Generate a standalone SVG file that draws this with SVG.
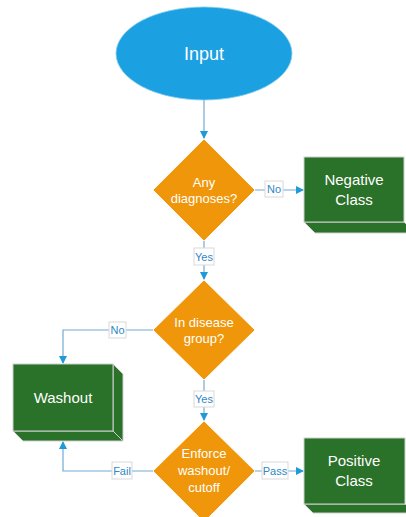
<svg xmlns="http://www.w3.org/2000/svg" width="406" height="517" viewBox="0 0 406 517">
<style>
.t{font-family:"Liberation Sans",Arial,sans-serif;fill:#fff;text-anchor:middle}
.lbl rect{fill:#fff;stroke:#d9d9d9;stroke-width:1}
.lbl text{font-family:"Liberation Sans",Arial,sans-serif;font-size:11px;fill:#2F87C5;text-anchor:middle}
.c{fill:none;stroke:#72A9D2;stroke-width:1.2}
.dia{fill:#F0960A;stroke:#fff;stroke-width:0.8}
.box{fill:#2A7129;stroke:#d0d0d0;stroke-width:1}
</style>
<defs>
<marker id="ah" markerWidth="8" markerHeight="8" refX="7" refY="4" orient="auto" markerUnits="userSpaceOnUse">
<path d="M0,0 L8,4 L0,8 Z" fill="#1E9BD7"/>
</marker>
</defs>
<rect width="406" height="517" fill="#fff"/>
<g id="connectors">
<path class="c" d="M204,100 V138" marker-end="url(#ah)"/>
<path class="c" d="M255,190 H303" marker-end="url(#ah)"/>
<path class="c" d="M204,240 V279" marker-end="url(#ah)"/>
<path class="c" d="M153,330 H63 V363" marker-end="url(#ah)"/>
<path class="c" d="M204,380 V420" marker-end="url(#ah)"/>
<path class="c" d="M153,471 H63 V442" marker-end="url(#ah)"/>
<path class="c" d="M255,471 H303" marker-end="url(#ah)"/>
<g class="lbl"><rect x="265" y="181" width="18" height="16"/><text x="274" y="193">No</text></g>
<g class="lbl"><rect x="194" y="248" width="20" height="17"/><text x="204" y="260.5">Yes</text></g>
<g class="lbl"><rect x="109" y="322" width="17" height="16"/><text x="117.5" y="334">No</text></g>
<g class="lbl"><rect x="194" y="391" width="20" height="16"/><text x="204" y="403">Yes</text></g>
<g class="lbl"><rect x="112" y="462" width="20" height="17"/><text x="122" y="474.5">Fail</text></g>
<g class="lbl"><rect x="262" y="462" width="26" height="17"/><text x="275" y="474.5">Pass</text></g>
</g>
<g id="input">
<ellipse cx="204" cy="53.5" rx="88" ry="46.5" fill="#1BA1E2" stroke="#8ccdee" stroke-width="0.8"/>
<text class="t" x="204" y="60" font-size="18">Input</text>
</g>
<g id="any-diagnoses">
<polygon class="dia" points="204,139 255,190 204,241 153,190"/>
<text class="t" x="204" y="187" font-size="13">Any</text>
<text class="t" x="204" y="203" font-size="13">diagnoses?</text>
</g>
<g id="negative-class">
<path class="box" d="M304,222 L315,233 H416 L404,222 Z"/>
<rect class="box" x="304" y="157" width="100" height="65"/>
<text class="t" x="354" y="185" font-size="15">Negative</text>
<text class="t" x="354" y="205" font-size="15">Class</text>
</g>
<g id="disease-group">
<polygon class="dia" points="204,280 255,330 204,380 153,330"/>
<text class="t" x="204" y="327" font-size="13">In disease</text>
<text class="t" x="204" y="343" font-size="13">group?</text>
</g>
<g id="washout">
<path class="box" d="M113,364 L123,374 V441 L113,431 Z"/>
<path class="box" d="M13,431 L23,441 H123 L113,431 Z"/>
<rect class="box" x="13" y="364" width="100" height="67"/>
<text class="t" x="63" y="403" font-size="15">Washout</text>
</g>
<g id="enforce">
<polygon class="dia" points="204,421 255,471 204,522 153,471"/>
<text class="t" x="204" y="458" font-size="13">Enforce</text>
<text class="t" x="204" y="475" font-size="13">washout/</text>
<text class="t" x="204" y="492" font-size="13">cutoff</text>
</g>
<g id="positive-class">
<path class="box" d="M304,504 L313,513 H416 L405,504 Z"/>
<rect class="box" x="304" y="438" width="101" height="66"/>
<text class="t" x="354" y="466" font-size="15">Positive</text>
<text class="t" x="354" y="486" font-size="15">Class</text>
</g>
</svg>
